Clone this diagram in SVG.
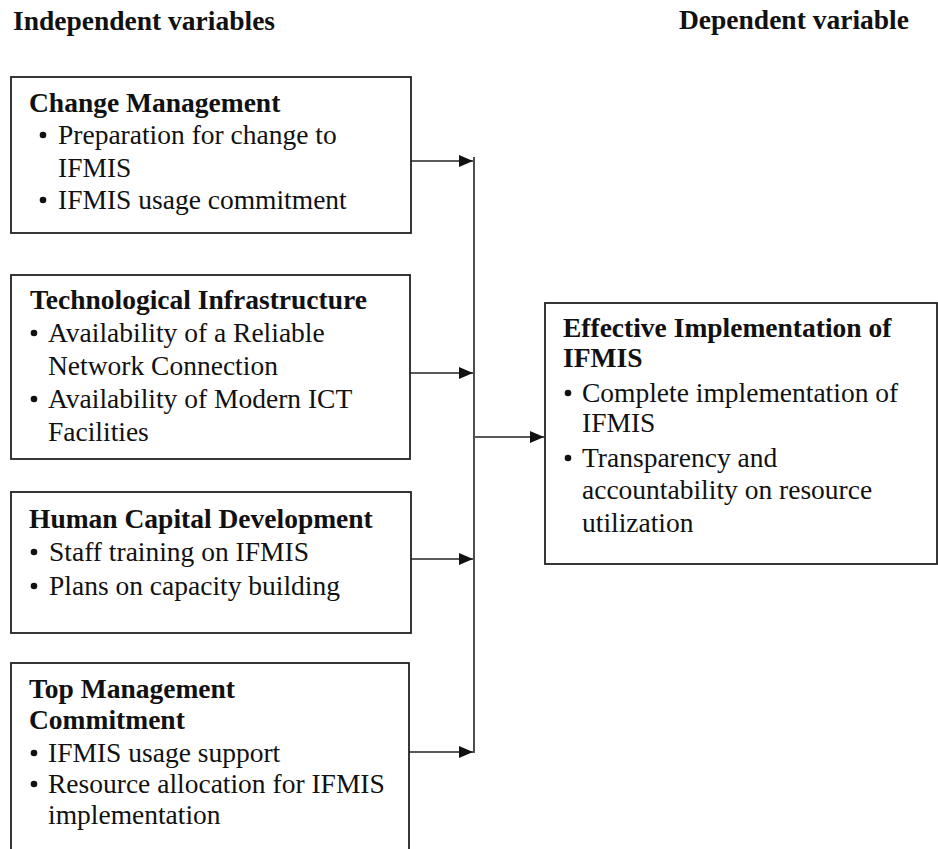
<svg xmlns="http://www.w3.org/2000/svg" width="938" height="849" viewBox="0 0 938 849">
  <defs>
    <marker id="arrow" markerUnits="userSpaceOnUse" markerWidth="15" markerHeight="13" refX="14" refY="6" orient="auto">
      <path d="M0,0 L14,6 L0,12 z" fill="#111"/>
    </marker>
    <style>
      text { font-family: "Liberation Serif", "Times New Roman", serif; font-size: 27.5px; fill: #111; }
      .head { font-weight: bold; }
      .title { font-weight: bold; }
      .dot { fill: #111; }
      .box { fill: #fff; stroke: #222; stroke-width: 1.8; }
      .link { fill: none; stroke: #222; stroke-width: 1.6; }
    </style>
  </defs>
  <rect width="938" height="849" fill="#fff"/>

  <!-- column headings -->
  <text class="head" x="13" y="30">Independent variables</text>
  <text class="head" x="679" y="29">Dependent variable</text>

  <!-- independent variable: change management -->
  <g id="change-management">
    <rect class="box" x="11" y="77" width="400" height="156"/>
    <text class="title" x="29" y="112">Change Management</text>
    <circle class="dot" cx="43" cy="135" r="3.3"/>
    <text x="58" y="144">Preparation for change to</text>
    <text x="58" y="177">IFMIS</text>
    <circle class="dot" cx="43" cy="200" r="3.3"/>
    <text x="58" y="209">IFMIS usage commitment</text>
  </g>

  <!-- independent variable: technological infrastructure -->
  <g id="tech-infrastructure">
    <rect class="box" x="11" y="275" width="399" height="184"/>
    <text class="title" x="30" y="309">Technological Infrastructure</text>
    <circle class="dot" cx="34" cy="333" r="3.3"/>
    <text x="48" y="342">Availability of a Reliable</text>
    <text x="48" y="375">Network Connection</text>
    <circle class="dot" cx="34" cy="399" r="3.3"/>
    <text x="48" y="408">Availability of Modern ICT</text>
    <text x="48" y="441">Facilities</text>
  </g>

  <!-- independent variable: human capital development -->
  <g id="human-capital">
    <rect class="box" x="11" y="492" width="400" height="141"/>
    <text class="title" x="29" y="528">Human Capital Development</text>
    <circle class="dot" cx="34" cy="552" r="3.3"/>
    <text x="49" y="561">Staff training on IFMIS</text>
    <circle class="dot" cx="34" cy="586" r="3.3"/>
    <text x="49" y="595">Plans on capacity building</text>
  </g>

  <!-- independent variable: top management commitment -->
  <g id="top-management">
    <rect class="box" x="11" y="663" width="398" height="210"/>
    <text class="title" x="29" y="698">Top Management</text>
    <text class="title" x="29" y="729">Commitment</text>
    <circle class="dot" cx="34" cy="753" r="3.3"/>
    <text x="48" y="762">IFMIS usage support</text>
    <circle class="dot" cx="34" cy="784" r="3.3"/>
    <text x="48" y="793">Resource allocation for IFMIS</text>
    <text x="48" y="824">implementation</text>
  </g>

  <!-- dependent variable -->
  <g id="effective-implementation">
    <rect class="box" x="545" y="303" width="392" height="261"/>
    <text class="title" x="563" y="337">Effective Implementation of</text>
    <text class="title" x="563" y="367">IFMIS</text>
    <circle class="dot" cx="568" cy="393" r="3.3"/>
    <text x="582" y="402">Complete implementation of</text>
    <text x="582" y="432">IFMIS</text>
    <circle class="dot" cx="568" cy="458" r="3.3"/>
    <text x="582" y="467">Transparency and</text>
    <text x="582" y="499">accountability on resource</text>
    <text x="582" y="532">utilization</text>
  </g>

  <!-- connectors -->
  <g id="connectors">
    <line class="link" x1="474" y1="157" x2="474" y2="753"/>
    <line class="link" x1="411" y1="161" x2="473" y2="161" marker-end="url(#arrow)"/>
    <line class="link" x1="410" y1="373" x2="473" y2="373" marker-end="url(#arrow)"/>
    <line class="link" x1="411" y1="559" x2="473" y2="559" marker-end="url(#arrow)"/>
    <line class="link" x1="409" y1="752" x2="473" y2="752" marker-end="url(#arrow)"/>
    <line class="link" x1="475" y1="437" x2="544" y2="437" marker-end="url(#arrow)"/>
  </g>
</svg>
